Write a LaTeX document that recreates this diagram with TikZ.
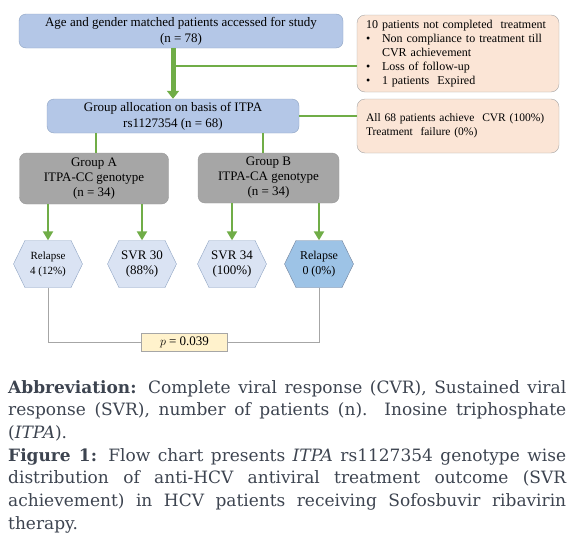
\documentclass[tikz,border=0pt]{standalone}
\usepackage{fontspec}
\setmainfont{Liberation Serif}
\newfontfamily\capfont{DejaVu Serif}
\usetikzlibrary{arrows.meta,positioning,shapes.symbols}
\definecolor{boxblue}{HTML}{B4C7E7}
\definecolor{blueline}{HTML}{8EA3C2}
\definecolor{peach}{HTML}{FBE5D6}
\definecolor{grpgray}{HTML}{A6A6A6}
\definecolor{hexblue}{HTML}{DAE3F3}
\definecolor{hexdark}{HTML}{9DC3E6}
\definecolor{arrgreen}{HTML}{70AD47}
\definecolor{pyellow}{HTML}{FFF2CC}
\definecolor{captext}{HTML}{3D4450}

\begin{document}
\begin{tikzpicture}[x=1pt, y=-1pt,
    bluebox/.style={draw=blueline, fill=boxblue, rounded corners=7pt,
      align=center, inner sep=0pt, font=\fontsize{13}{16}\selectfont},
    notebox/.style={draw=gray!70, fill=peach, rounded corners=8pt,
      align=left, inner xsep=9pt, inner ysep=0pt, text width=184pt,
      font=\fontsize{12}{14}\selectfont},
    grpbox/.style={draw=gray!80, fill=grpgray, rounded corners=7pt,
      align=center, inner sep=0pt, font=\fontsize{13}{15}\selectfont},
    hexa/.style={signal, signal to=west and east, signal pointer angle=128,
      draw=blueline, fill=hexblue, minimum width=69pt, minimum height=47pt,
      inner sep=0pt, align=center, font=\fontsize{13}{15}\selectfont},
    bigarr/.style={arrgreen, line width=5pt, -{Triangle[length=8pt, width=12pt]}},
    arr/.style={arrgreen, line width=2.5pt, -{Triangle[length=9pt, width=10pt]}},
    link/.style={arrgreen, line width=2pt},
    pline/.style={grpgray, line width=1pt},
  ]
  \useasboundingbox (0,0) rectangle (583,546);

  % Top of the chart
  \node[bluebox, minimum width=324pt, minimum height=34pt] (study) at (181,31)
    {Age and gender matched patients accessed for study\\(n = 78)};
  \node[bluebox, minimum width=252pt, minimum height=34pt] (alloc) at (173,116)
    {Group allocation on basis of ITPA\\rs1127354 (n = 68)};

  % Side notes
  \node[notebox, minimum height=77pt] (excl) at (458,53.5)
    {\begin{tabular}{@{}p{16pt}@{}l@{}}
       \multicolumn{2}{@{}l}{10 patients not completed\ \ treatment}\\
       \textbullet & Non compliance to treatment till\\
                   & CVR achievement\\
       \textbullet & Loss of follow-up\\
       \textbullet & 1 patients\ \ Expired
     \end{tabular}};
  \node[notebox, minimum height=54pt, font=\fontsize{11.5}{14}\selectfont] (cvr) at (458,126)
    {All 68 patients achieve\ \ CVR (100\%)\\Treatment\ \ failure (0\%)};

  \draw[bigarr] (study.south -| alloc.north) -- (alloc.north);
  \coordinate (split) at (173,66);
  \draw[link] (split) -- (split -| excl.west);
  \draw[link] (alloc.east) -- (alloc.east -| cvr.west);

  % Groups
  \node[grpbox, minimum width=149pt, minimum height=51pt] (grpA) at (94,178.5)
    {Group A\\ITPA-CC genotype\\(n = 34)};
  \node[grpbox, minimum width=141pt, minimum height=50pt] (grpB) at (268.5,178)
    {Group B\\ITPA-CA genotype\\(n = 34)};
  \draw[link] (alloc.south -| 96,0) -- (grpA.north -| 96,0);
  \draw[link] (alloc.south -| 263,0) -- (grpB.north -| 263,0);

  % Outcomes
  \node[hexa, font=\fontsize{11}{15}\selectfont] (relA) at (48,264) {Relapse\\4 (12\%)};
  \node[hexa] (svrA) at (142,264) {SVR 30\\(88\%)};
  \node[hexa] (svrB) at (232,264) {SVR 34\\(100\%)};
  \node[hexa, fill=hexdark, draw=blueline!80!black,
        font=\fontsize{12}{15}\selectfont] (relB) at (319,264) {Relapse\\0 (0\%)};

  \foreach \g/\h in {grpA/relA, grpA/svrA, grpB/svrB, grpB/relB}
    \draw[arr] (\g.south -| \h.north) -- (\h.north);

  % p value
  \node[draw=grpgray, fill=pyellow, minimum width=86pt, minimum height=18pt,
        inner sep=0pt, font=\fontsize{13}{14}\selectfont] (pval) at (184.5,342)
    {$p$ = 0.039};
  \draw[pline] (relA.south) |- (pval.west);
  \draw[pline] (relB.south) |- (pval.east);

  % Caption
  \node[anchor=north west, inner sep=0pt, text width=558pt, align=justify,
        text=captext, font=\capfont\fontsize{17}{22.7}\selectfont] (caption) at (8,380)
    {\textbf{Abbreviation:} Complete viral response (CVR), Sustained viral\linebreak
     response (SVR), number of patients (n). Inosine triphosphate\linebreak
     (\textit{ITPA}).\par
     \textbf{Figure 1:} Flow chart presents \textit{ITPA} rs1127354 genotype wise\linebreak
     distribution of anti-HCV antiviral treatment outcome (SVR\linebreak
     achievement) in HCV patients receiving Sofosbuvir ribavirin\linebreak
     therapy.};
\end{tikzpicture}
\end{document}
